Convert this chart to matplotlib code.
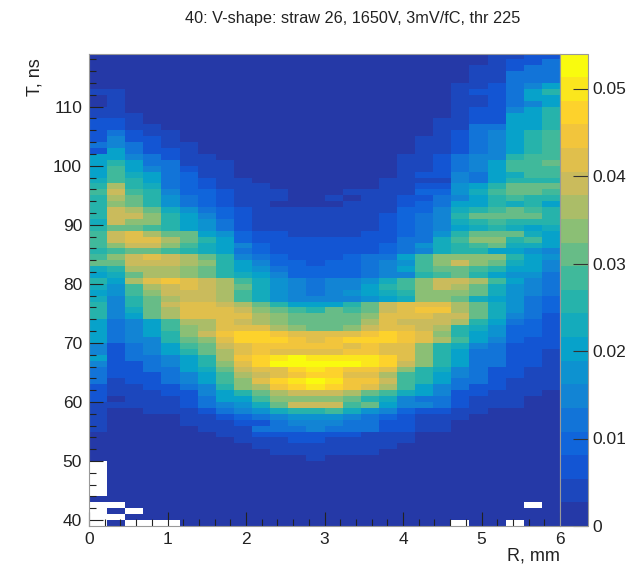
import numpy as np
import matplotlib
matplotlib.use('Agg')
from matplotlib import pyplot as plt
from matplotlib.colors import LinearSegmentedColormap, ListedColormap, BoundaryNorm
from matplotlib.ticker import MultipleLocator, AutoMinorLocator

plt.rcParams['font.family'] = ['Liberation Sans', 'DejaVu Sans']

title = '40: V-shape: straw 26, 1650V, 3mV/fC, thr 225'
r_range = [0, 6]
t_range = [39, 119]
z_max = 0.054
n_levels = 20
cbar_ticks = [0, 0.01, 0.02, 0.03, 0.04, 0.05]
cbar_labels = ['0', '0.01', '0.02', '0.03', '0.04', '0.05']

# palette stops (bird-like)
stops = [0.0, 0.125, 0.25, 0.375, 0.5, 0.625, 0.75, 0.875, 1.0]
reds = [0.145, 0.06, 0.078, 0.023, 0.18, 0.53, 0.82, 0.9956, 0.9764]
greens = [0.225, 0.36, 0.504, 0.642, 0.718, 0.749, 0.733, 0.786, 0.983]
blues = [0.655, 0.868, 0.838, 0.791, 0.642, 0.466, 0.35, 0.197, 0.054]

# cell contents as colour step (0..19), -1 = empty bin. top row is T=118..119
cells = [
[0,0,0,0,0,0,0,0,0,0,0,0,0,0,0,0,0,0,0,0,0,0,1,1,2,2],
[0,0,0,0,0,0,0,0,0,0,0,0,0,0,0,0,0,0,0,0,0,0,1,2,2,4],
[0,0,0,0,0,0,0,0,0,0,0,0,0,0,0,0,0,0,0,0,0,1,1,2,4,4],
[0,0,0,0,0,0,0,0,0,0,0,0,0,0,0,0,0,0,0,0,0,1,1,4,4,4],
[0,0,0,0,0,0,0,0,0,0,0,0,0,0,0,0,0,0,0,0,0,1,1,4,4,4],
[0,0,0,0,0,0,0,0,0,0,0,0,0,0,0,0,0,0,0,0,1,1,2,4,5,7],
[1,1,0,0,0,0,0,0,0,0,0,0,0,0,0,0,0,0,0,0,1,2,2,4,7,9],
[0,1,0,0,0,0,0,0,0,0,0,0,0,0,0,0,0,0,0,0,1,1,2,4,7,7],
[0,1,0,0,0,0,0,0,0,0,0,0,0,0,0,0,0,0,0,0,1,1,2,4,5,7],
[1,1,0,0,0,0,0,0,0,0,0,0,0,0,0,0,0,0,0,0,1,2,2,5,7,9],
[1,1,1,0,0,0,0,0,0,0,0,0,0,0,0,0,0,0,0,0,1,2,2,7,7,9],
[2,2,1,0,0,0,0,0,0,0,0,0,0,0,0,0,0,0,0,1,1,2,2,7,7,9],
[2,2,1,1,0,0,0,0,0,0,0,0,0,0,0,0,0,0,0,1,1,4,4,7,7,9],
[2,4,2,1,1,0,0,0,0,0,0,0,0,0,0,0,0,0,0,1,2,4,5,7,9,10],
[2,5,2,2,1,0,0,0,0,0,0,0,0,0,0,0,0,0,1,1,2,4,5,7,9,10],
[4,5,4,2,1,1,0,0,0,0,0,0,0,0,0,0,0,0,1,1,2,4,5,7,9,10],
[2,7,4,2,2,1,0,0,0,0,0,0,0,0,0,0,0,0,1,1,2,4,5,7,9,10],
[7,7,5,4,2,1,1,0,0,0,0,0,0,0,0,0,0,1,1,2,4,5,5,9,10,10],
[7,9,7,4,4,1,1,1,0,0,0,0,0,0,0,0,0,1,1,2,4,5,7,10,10,11],
[7,10,7,5,4,2,1,1,0,0,0,0,0,0,0,0,0,1,1,2,4,5,7,10,10,10],
[7,10,8,7,4,3,1,1,0,0,0,0,0,0,0,0,0,1,2,2,5,4,7,8,10,10],
[8,10,9,7,4,3,2,1,1,0,0,0,0,0,0,0,1,1,1,1,5,4,7,9,9,9],
[9,13,9,8,4,3,2,1,1,1,0,0,0,0,0,0,1,1,2,2,6,7,9,11,11,11],
[10,14,10,9,5,3,3,2,1,1,1,0,0,0,1,1,1,1,3,3,6,8,10,11,11,10],
[9,13,11,9,6,4,3,2,1,1,1,0,0,1,0,1,1,2,2,4,5,7,9,10,9,9],
[9,12,11,9,6,4,3,2,1,1,0,0,0,0,1,1,1,2,3,4,7,7,9,8,9,7],
[9,14,13,11,8,6,4,3,2,1,1,1,1,1,1,1,1,3,3,5,8,9,10,11,10,9],
[9,14,14,12,9,7,5,3,2,1,1,1,1,1,1,1,2,3,4,5,9,11,11,11,11,9],
[8,14,12,12,9,7,6,4,2,1,1,1,1,1,1,1,2,3,4,5,8,9,10,9,9,9],
[9,11,11,10,9,7,6,4,2,1,1,1,1,1,1,1,2,3,4,5,7,8,9,8,7,8],
[10,14,15,13,11,11,7,6,3,2,2,1,1,1,1,2,2,3,4,6,9,11,11,11,8,7],
[10,14,15,15,13,11,9,7,3,2,2,2,2,2,2,2,2,4,4,8,10,12,12,9,10,7],
[10,12,14,14,12,10,8,7,5,3,2,2,2,2,2,2,3,4,6,8,9,10,11,8,8,7],
[9,10,11,11,10,9,8,7,4,3,2,2,2,2,2,2,3,4,5,8,9,9,7,7,6,5],
[10,12,14,15,14,13,11,9,5,4,3,2,2,2,3,4,4,7,10,12,12,12,12,9,7,6],
[11,11,14,14,14,13,12,9,7,5,3,3,2,3,3,4,5,6,10,12,14,12,11,8,7,5],
[8,9,13,13,13,12,11,9,7,6,4,3,3,3,3,4,5,7,10,11,11,10,9,7,7,5],
[7,8,11,13,13,12,11,9,8,7,5,3,3,3,3,4,5,5,9,10,11,9,7,6,6,4],
[9,7,13,15,16,15,14,13,10,8,6,5,4,5,5,6,8,10,12,14,14,13,10,7,5,4],
[8,6,10,13,14,15,14,13,11,8,6,5,4,5,5,7,9,10,12,14,13,11,8,6,5,4],
[7,6,10,12,14,14,14,13,10,8,6,5,4,5,6,7,8,9,12,12,12,11,8,6,5,4],
[8,5,9,11,13,14,14,13,10,8,6,5,5,5,5,6,7,8,12,12,11,8,7,6,4,3],
[9,5,9,11,14,15,15,14,13,11,9,7,7,7,9,11,14,15,15,15,13,11,8,6,4,3],
[9,5,8,11,13,15,15,15,14,12,11,10,9,11,10,11,14,15,16,16,13,11,8,6,4,3],
[9,5,7,11,13,15,15,15,15,13,12,11,11,11,11,12,15,15,15,14,14,11,8,5,4,2],
[7,4,5,7,10,13,13,15,14,13,12,11,11,11,11,13,15,14,14,14,13,9,7,4,3,2],
[7,4,5,7,10,12,13,15,15,15,13,12,11,11,12,14,15,15,14,13,9,8,6,3,3,2],
[7,4,5,7,9,12,14,16,17,17,16,15,15,15,15,16,17,16,15,12,9,7,6,3,3,2],
[7,4,5,5,9,11,12,15,17,17,17,16,15,16,17,17,17,16,15,13,10,7,5,3,2,2],
[5,2,4,5,7,10,11,14,15,16,16,16,16,16,15,16,15,15,12,9,8,5,4,2,2,2],
[5,2,4,5,7,9,11,13,15,16,15,15,15,15,16,16,15,15,12,9,7,4,4,2,2,1],
[7,2,4,4,5,7,9,13,16,17,18,19,18,18,18,18,17,15,12,9,7,4,4,2,2,1],
[5,2,2,4,5,7,9,12,15,17,19,19,19,19,19,18,17,14,12,9,7,4,4,2,2,1],
[4,2,2,4,4,7,8,11,14,15,15,17,18,17,16,16,15,12,9,8,5,4,2,2,1,1],
[4,2,2,2,4,5,7,10,13,14,15,16,17,17,15,15,13,10,9,7,5,4,2,2,1,1],
[4,1,2,2,4,5,7,10,12,15,17,18,19,18,16,16,14,10,9,7,4,4,2,1,1,1],
[2,1,1,2,2,4,5,9,12,13,16,17,18,17,16,15,13,10,7,5,4,2,2,1,1,1],
[2,1,1,1,2,2,5,7,9,11,13,14,14,14,13,11,10,8,7,5,2,2,1,1,1,0],
[2,0,1,1,1,2,4,7,7,10,12,12,12,12,11,9,8,5,4,4,2,1,1,1,0,0],
[1,1,1,1,1,2,4,5,6,8,11,14,14,14,10,11,7,5,5,4,2,1,1,1,0,0],
[1,0,0,1,1,1,2,4,5,6,8,9,9,10,8,6,5,3,2,2,1,1,0,0,0,0],
[1,0,0,0,0,1,1,2,3,4,5,6,6,6,5,4,3,2,1,1,1,0,0,0,0,0],
[1,0,0,0,0,1,1,1,2,2,4,5,5,5,4,4,2,2,1,1,0,0,0,0,0,0],
[1,0,0,0,0,0,1,1,1,4,4,4,5,4,4,4,2,2,1,1,0,0,0,0,0,0],
[0,0,0,0,0,0,0,1,1,2,2,2,2,2,2,1,1,1,0,0,0,0,0,0,0,0],
[0,0,0,0,0,0,0,0,1,1,1,2,2,1,1,1,1,1,0,0,0,0,0,0,0,0],
[0,0,0,0,0,0,0,0,0,1,1,1,1,1,1,1,1,0,0,0,0,0,0,0,0,0],
[0,0,0,0,0,0,0,0,0,0,1,1,1,1,1,1,0,0,0,0,0,0,0,0,0,0],
[0,0,0,0,0,0,0,0,0,0,0,0,1,0,0,0,0,0,0,0,0,0,0,0,0,0],
[-1,0,0,0,0,0,0,0,0,0,0,0,0,0,0,0,0,0,0,0,0,0,0,0,0,0],
[-1,0,0,0,0,0,0,0,0,0,0,0,0,0,0,0,0,0,0,0,0,0,0,0,0,0],
[-1,0,0,0,0,0,0,0,0,0,0,0,0,0,0,0,0,0,0,0,0,0,0,0,0,0],
[-1,0,0,0,0,0,0,0,0,0,0,0,0,0,0,0,0,0,0,0,0,0,0,0,0,0],
[-1,0,0,0,0,0,0,0,0,0,0,0,0,0,0,0,0,0,0,0,0,0,0,0,0,0],
[-1,0,0,0,0,0,0,0,0,0,0,0,0,0,0,0,0,0,0,0,0,0,0,0,0,0],
[0,0,0,0,0,0,0,0,0,0,0,0,0,0,0,0,0,0,0,0,0,0,0,0,0,0],
[-1,-1,0,0,0,0,0,0,0,0,0,0,0,0,0,0,0,0,0,0,0,0,0,0,-1,0],
[-1,0,-1,0,0,0,0,0,0,0,0,0,0,0,0,0,0,0,0,0,0,0,0,0,0,0],
[-1,-1,0,0,0,0,0,0,0,0,0,0,0,0,0,0,0,0,0,0,0,0,0,0,0,0],
[-1,0,-1,-1,-1,0,0,0,0,0,0,0,0,0,0,0,0,0,0,0,-1,0,0,-1,0,0],
]

cells = np.array(cells, dtype=float)
dz = z_max / n_levels
z = np.ma.masked_less(cells, 0)
z = (z + 0.5) * dz

r_edges = np.linspace(r_range[0], r_range[1], cells.shape[1] + 1)
t_edges = np.linspace(t_range[1], t_range[0], cells.shape[0] + 1)

# 20 flat colours out of the palette
base = LinearSegmentedColormap.from_list('bird', list(zip(stops, zip(reds, greens, blues))))
cmap = ListedColormap(base(np.linspace(0, 1, n_levels)))
cmap.set_bad('white')
norm = BoundaryNorm(np.linspace(0, z_max, n_levels + 1), n_levels)

W, H = 635, 565
fig = plt.figure(figsize=(W / 100, H / 100), dpi=100)
ax = fig.add_axes([89 / W, 1 - 526 / H, 471 / W, 472.5 / H])
cax = fig.add_axes([560 / W, 1 - 526 / H, 28 / W, 472.5 / H])

mesh = ax.pcolormesh(r_edges, t_edges, z, cmap=cmap, norm=norm, linewidth=0, rasterized=True)
ax.set_xlim(r_range)
ax.set_ylim(t_range)

ax.xaxis.set_major_locator(MultipleLocator(1))
ax.xaxis.set_minor_locator(AutoMinorLocator(5))
ax.yaxis.set_major_locator(MultipleLocator(10))
ax.yaxis.set_minor_locator(AutoMinorLocator(5))
ax.tick_params(which='major', direction='in', length=10, width=0.8, labelsize=12.5, color='#222222', labelcolor='#222222')
ax.tick_params(which='minor', direction='in', length=5, width=0.8, color='#222222')
ax.tick_params(axis='x', which='major', pad=4)
ax.tick_params(axis='y', which='major', pad=5)
for s in ax.spines.values():
    s.set_color('#999999')
    s.set_linewidth(0.8)

cb = fig.colorbar(mesh, cax=cax, spacing='proportional', drawedges=False)
cb.set_ticks(cbar_ticks, labels=cbar_labels)
cb.minorticks_off()
cax.tick_params(which='major', direction='in', length=11, width=0.8, labelsize=12.5, pad=3,
                color='#333333', labelcolor='#222222')
cb.outline.set_edgecolor('#999999')
cb.outline.set_linewidth(0.8)

fig.text(353 / W, 1 - 18 / H, title, ha='center', va='center', fontsize=11.7, color='#222222')
fig.text(560 / W, 1 - 556 / H, 'R, mm', ha='right', va='center', fontsize=13, color='#222222')
fig.text(35 / W, 1 - 77 / H, 'T, ns', ha='center', va='center', rotation=90, fontsize=13, color='#222222')

fig.savefig('out.png', dpi=100)
